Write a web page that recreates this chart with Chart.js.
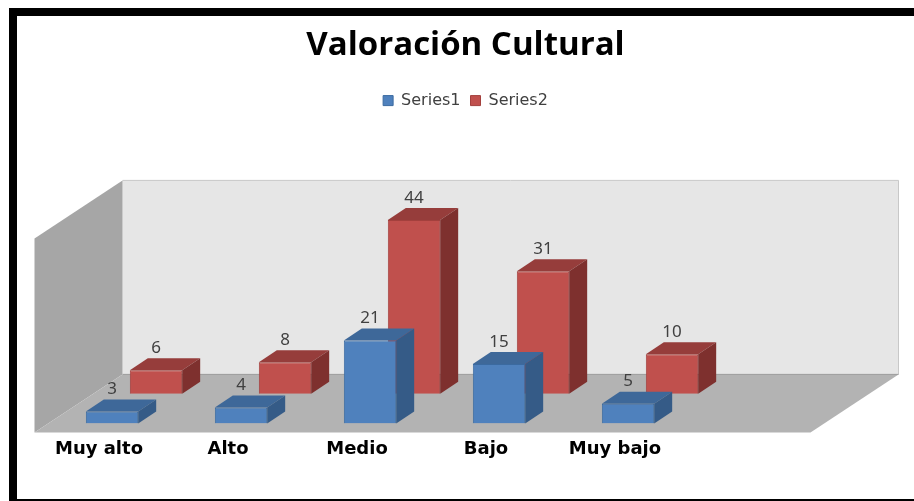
<!DOCTYPE html>
<html>
<head>
<meta charset="utf-8">
<script src="https://cdn.jsdelivr.net/npm/chart.js@4.4.0/dist/chart.umd.min.js"></script>
<style>
html,body{margin:0;padding:0;background:#fff;}
#frame{position:absolute;left:9px;top:8px;width:897px;height:483px;border-top:8px solid #000;border-left:8px solid #000;border-bottom:2px solid #000;background:#fff;}
#chart{display:block;}
</style>
</head>
<body>
<div id="frame"><canvas id="chart" width="897" height="483"></canvas></div>
<script>
var categorias = ['Muy alto', 'Alto', 'Medio', 'Bajo', 'Muy bajo'];
var serie1 = [3, 4, 21, 15, 5];
var serie2 = [6, 8, 44, 31, 10];
var nombres = ['Series1', 'Series2'];

// profundidad de las barras (efecto 3d)
var DX = 18, DY = -12;
var caras = [
  {top: '#3e6899', side: '#355b87'},
  {top: '#963d3b', side: '#7e302e'}
];

function poly(ctx, pts, color){
  ctx.beginPath();
  ctx.moveTo(pts[0][0], pts[0][1]);
  for (var i = 1; i < pts.length; i++) ctx.lineTo(pts[i][0], pts[i][1]);
  ctx.closePath();
  ctx.fillStyle = color;
  ctx.fill();
}

var fondo3d = {
  id: 'fondo3d',
  beforeDatasetsDraw: function(chart){
    var ctx = chart.ctx, a = chart.chartArea;
    var base = chart.scales.y.getPixelForValue(0);
    var fy = base + 9, fx0 = a.left - 35, fx1 = a.right + 96;
    var bx = 88, by = -58, top = base - 243;
    ctx.save();
    // pared del fondo
    poly(ctx, [[fx0 + bx, fy + by], [fx1 + bx, fy + by], [fx1 + bx, top], [fx0 + bx, top]], '#e6e6e6');
    // pared izquierda
    poly(ctx, [[fx0, fy], [fx0 + bx, fy + by], [fx0 + bx, top], [fx0, top - by]], '#a6a6a6');
    // piso
    poly(ctx, [[fx0, fy], [fx1, fy], [fx1 + bx, fy + by], [fx0 + bx, fy + by]], '#b3b3b3');
    ctx.strokeStyle = '#c8c8c8';
    ctx.lineWidth = 1;
    ctx.beginPath();
    ctx.moveTo(fx0 + bx, top); ctx.lineTo(fx1 + bx, top); ctx.lineTo(fx1 + bx, fy + by);
    ctx.stroke();
    ctx.strokeStyle = '#9a9a9a';
    ctx.beginPath();
    ctx.moveTo(fx0 + bx, fy + by); ctx.lineTo(fx1 + bx, fy + by);
    ctx.stroke();
    ctx.restore();
  },
  afterDatasetDraw: function(chart, args){
    var ctx = chart.ctx, c = caras[args.index];
    ctx.save();
    args.meta.data.forEach(function(bar){
      var x0 = bar.x - bar.width / 2, x1 = bar.x + bar.width / 2, yt = bar.y, yb = bar.base;
      poly(ctx, [[x0, yt], [x1, yt], [x1 + DX, yt + DY], [x0 + DX, yt + DY]], c.top);
      poly(ctx, [[x1, yt], [x1 + DX, yt + DY], [x1 + DX, yb + DY], [x1, yb]], c.side);
    });
    ctx.restore();
  },
  afterDatasetsDraw: function(chart){
    var ctx = chart.ctx;
    ctx.save();
    ctx.font = '17px "Noto Sans"';
    ctx.fillStyle = '#404040';
    ctx.textAlign = 'center';
    ctx.textBaseline = 'middle';
    chart.data.datasets.forEach(function(ds, i){
      chart.getDatasetMeta(i).data.forEach(function(bar, j){
        ctx.fillText(ds.data[j], bar.x, bar.y + DY - 10);
      });
    });
    ctx.restore();
  }
};

var hidden = {
  ticks: {display: false},
  grid: {display: false, drawTicks: false},
  border: {display: false}
};

new Chart(document.getElementById('chart').getContext('2d'), {
  type: 'bar',
  data: {
    labels: categorias,
    datasets: [
      {label: nombres[0], data: serie1, yAxisID: 'y', backgroundColor: '#4f81bd', borderColor: '#3b6aa0', borderWidth: 1},
      {label: nombres[1], data: serie2, yAxisID: 'y2', backgroundColor: '#c0504d', borderColor: '#a3403d', borderWidth: 1}
    ]
  },
  options: {
    responsive: false,
    animation: false,
    categoryPercentage: 0.682,
    barPercentage: 1.19,
    layout: {padding: {bottom: 24}},
    plugins: {
      title: {
        display: true,
        text: 'Valoración Cultural',
        color: '#000',
        font: {family: 'Open Sans', size: 33, weight: 'bold'},
        padding: {top: 10, bottom: 17}
      },
      legend: {
        labels: {
          color: '#404040',
          font: {family: 'DejaVu Sans', size: 16},
          boxWidth: 10,
          boxHeight: 10
        }
      },
      tooltip: {enabled: false}
    },
    scales: {
      x: {
        grid: {display: false, drawTicks: false},
        border: {display: false},
        ticks: {
          color: '#000',
          font: {family: 'DejaVu Sans', size: 18, weight: 'bold'},
          padding: 15,
          labelOffset: -35,
          maxRotation: 0,
          autoSkip: false
        }
      },
      y: Object.assign({position: 'left', min: 0, max: 77.1,
        afterFit: function(s){ s.width = 52.5; }}, hidden),
      y2: Object.assign({position: 'right', min: -7.47, max: 69.63,
        afterFit: function(s){ s.width = 199.5; }}, hidden)
    }
  },
  plugins: [fondo3d]
});
</script>
</body>
</html>
